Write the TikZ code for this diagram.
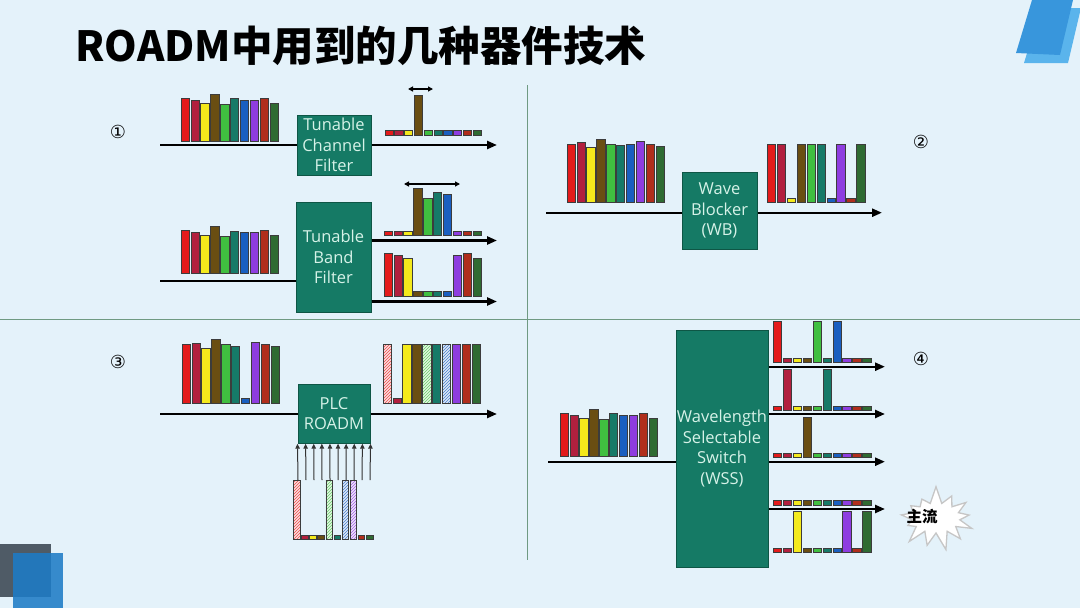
\documentclass[tikz,border=0pt]{standalone}
\usepackage{fontspec}
\usetikzlibrary{arrows.meta,calc,patterns,shapes.symbols}
\newfontfamily\cjk{Noto Sans CJK SC}
\newfontfamily\boxfont{Open Sans}
\newfontfamily\symfont{DejaVu Sans}
\definecolor{bg}{HTML}{E4F2FA}
\definecolor{boxfill}{HTML}{157A65}
\definecolor{boxline}{HTML}{0E5645}
\definecolor{boxtext}{HTML}{D6F2E8}
\definecolor{divider}{HTML}{6F9A82}
\definecolor{barline}{HTML}{3C3C3C}
\definecolor{decoblue}{HTML}{3896DC}
\definecolor{decolight}{HTML}{5AB4EC}
\definecolor{decogray}{HTML}{4F5B66}
\definecolor{decodeep}{HTML}{1E7CC6}
\definecolor{c1}{HTML}{E41B1B}
\definecolor{c2}{HTML}{B2203E}
\definecolor{c3}{HTML}{F4EA1C}
\definecolor{c4}{HTML}{6A4E12}
\definecolor{c5}{HTML}{40BF40}
\definecolor{c6}{HTML}{167A68}
\definecolor{c7}{HTML}{1A5FC0}
\definecolor{c8}{HTML}{8E3DE0}
\definecolor{c9}{HTML}{B02E1C}
\definecolor{c10}{HTML}{2F6B32}

% one spectrum: [pitch]{left x}{base y}{height/style,...}
\newcommand{\spectrum}[4][9.9]{%
  \foreach \h/\o [count=\i] in {#4}
    \draw[bar,fill=c\i,\o] ({#2+(\i-1)*#1},#3) rectangle ++({#1-1.6},-\h);
}

\begin{document}
\begin{tikzpicture}[
  x=1pt,y=-1pt,
  box/.style={draw=boxline,fill=boxfill,text=boxtext,line width=1pt,align=center,inner sep=0pt,
    font=\boxfont\fontsize{16.5}{20.5}\selectfont},
  bar/.style={draw=barline,line width=0.8pt},
  sol/.style={},
  hat/.style={preaction={fill=c\i!15},pattern=north east lines,pattern color=c\i!80},
  fiber/.style={line width=2.4pt,black},
  arr/.style={fiber,-{Triangle[length=10pt,width=8pt]}},
  widthmark/.style={line width=1.2pt,{Triangle[length=5pt,width=5pt]}-{Triangle[length=5pt,width=5pt]}},
  uparr/.style={line width=1pt,black!80,-{Triangle[length=5pt,width=4.5pt]}},
  num/.style={font=\symfont\fontsize{18}{20}\selectfont},
]
  \useasboundingbox (0,0) rectangle (1080,608);
  \fill[bg] (0,0) rectangle (1080,608);

  % corner decorations
  \fill[decolight] (1041,8) -- (1080,8) -- (1080,12) -- (1068,63) -- (1024,63) -- cycle;
  \fill[decoblue] (1032,0) -- (1073,0) -- (1060,55) -- (1016,53) -- cycle;
  \fill[decogray] (0,544) rectangle (51,597);
  \fill[decodeep,opacity=0.88] (13,553) rectangle (63,608);

  % title
  \node[anchor=base west,font=\cjk\bfseries\fontsize{41.5}{46}\selectfont] (title) at (72,61) {ROADM中用到的几种器件技术};

  % quadrant dividers
  \draw[divider,line width=1pt] (0,319) -- (1080,319);
  \draw[divider,line width=1pt] (527,85) -- (527,560);

  % circled numbers
  \node[num] (n1) at (118,132) {①};
  \node[num] (n2) at (921,142) {②};
  \node[num] (n3) at (118,362) {③};
  \node[num] (n4) at (921,359) {④};

  % Quadrant 1: tunable channel filter
  \node[box,minimum width=74pt,minimum height=60pt] (tcf) at (334,145) {Tunable\\Channel\\Filter};
  \coordinate (tcf in) at (160,145);
  \coordinate (tcf out) at (497,145);
  \draw[fiber] (tcf in) -- (tcf.west);
  \draw[arr] (tcf.east) -- (tcf out);
  \spectrum{181}{141}{43/sol,41/sol,38/sol,47/sol,37/sol,42.5/sol,41/sol,41/sol,43/sol,38/sol}
  \spectrum[9.8]{385}{135}{4.5/sol,4.5/sol,4.5/sol,40/sol,4.5/sol,4.5/sol,4.5/sol,4.5/sol,4.5/sol,4.5/sol}
  \coordinate (cw a) at (408,89);
  \coordinate (cw b) at (433,89);
  \draw[widthmark] (cw a) -- (cw b);

  % Quadrant 1: tunable band filter
  \node[box,minimum width=75pt,minimum height=110pt] (tbf) at (333.5,257) {Tunable\\Band\\Filter};
  \coordinate (tbf in) at (160,281);
  \coordinate (tbf out1) at (497,240.5);
  \coordinate (tbf out2) at (497,301.5);
  \draw[fiber] (tbf in) -- (tbf in -| tbf.west);
  \draw[arr] (tbf out1 -| tbf.east) -- (tbf out1);
  \draw[arr] (tbf out2 -| tbf.east) -- (tbf out2);
  \spectrum{181}{273.5}{43/sol,41/sol,38/sol,47/sol,37/sol,42.5/sol,41/sol,41/sol,43/sol,38/sol}
  \spectrum{384}{235.5}{4.5/sol,4.5/sol,4.5/sol,47/sol,37/sol,43/sol,41/sol,4.5/sol,4.5/sol,4.5/sol}
  \spectrum{384}{296}{43/sol,40.5/sol,38/sol,4.5/sol,4.5/sol,4.5/sol,4.5/sol,40.5/sol,43/sol,38/sol}
  \coordinate (bw a) at (404,184);
  \coordinate (bw b) at (460,184);
  \draw[widthmark] (bw a) -- (bw b);

  % Quadrant 2: wave blocker
  \node[box,minimum width=75pt,minimum height=77pt] (wb) at (719.5,210.5) {Wave\\Blocker\\(WB)};
  \coordinate (wb in) at (546,212.7);
  \coordinate (wb out) at (882,212.7);
  \draw[fiber] (wb in) -- (wb in -| wb.west);
  \draw[arr] (wb out -| wb.east) -- (wb out);
  \spectrum{567}{202.7}{58.5/sol,60/sol,55/sol,63.5/sol,58.5/sol,57.5/sol,58.5/sol,61.5/sol,58.5/sol,56.5/sol}
  \spectrum{767.5}{202.7}{58.5/sol,58.5/sol,4.5/sol,58.5/sol,58.5/sol,58.5/sol,4.5/sol,58.5/sol,4.5/sol,58.5/sol}

  % Quadrant 3: PLC ROADM
  \node[box,minimum width=72pt,minimum height=59pt] (plc) at (334,413.7) {PLC\\ROADM};
  \coordinate (plc in) at (160,414);
  \coordinate (plc out) at (497,414);
  \draw[fiber] (plc in) -- (plc in -| plc.west);
  \draw[arr] (plc out -| plc.east) -- (plc out);
  \spectrum{182}{403.3}{58.5/sol,59.5/sol,55/sol,63.5/sol,58.5/sol,57/sol,4.5/sol,61/sol,58.5/sol,56.5/sol}
  \spectrum{383}{403.3}{58.5/hat,4.5/sol,58.5/sol,58.5/sol,58.5/hat,58.5/sol,58.5/hat,58.5/sol,58.5/sol,58.5/sol}
  \spectrum[8.1]{293.5}{539}{58.3/hat,4/sol,4/sol,4/sol,58.3/hat,4/sol,58.3/hat,58.3/hat,4/sol,4/sol}
  \coordinate (add a) at (298,480);
  \coordinate (add b) at (370,480);
  \foreach \k in {0,...,9}
    \draw[uparr] ($(add a)!\k/9!(add b)$) -- ($(plc.south west)!\k/9!(plc.south east)$);

  % Quadrant 4: wavelength selectable switch
  \node[box,minimum width=92pt,minimum height=237pt] (wss) at (722,448.5) {Wavelength\\Selectable\\Switch\\(WSS)};
  \coordinate (wss in) at (548,461.7);
  \draw[fiber] (wss in) -- (wss in -| wss.west);
  \foreach \y [count=\j] in {366.7,414,461.7,509} {
    \coordinate (wss out\j) at (885,\y);
    \draw[arr] (wss out\j -| wss.east) -- (wss out\j);
  }
  \spectrum{560}{456}{43/sol,41/sol,38/sol,47/sol,37/sol,42.5/sol,41/sol,41/sol,43/sol,38/sol}
  \spectrum{773.5}{362.3}{40.6/sol,4/sol,4/sol,4/sol,40.6/sol,4/sol,40.6/sol,4/sol,4/sol,4/sol}
  \spectrum{773.5}{410}{4/sol,41/sol,4/sol,4/sol,4/sol,41/sol,4/sol,4/sol,4/sol,4/sol}
  \spectrum{773.5}{457.7}{4/sol,4/sol,4/sol,40.4/sol,4/sol,4/sol,4/sol,4/sol,4/sol,4/sol}
  \spectrum{773.5}{505}{4.3/sol,4.3/sol,4.3/sol,4.3/sol,4.3/sol,4.3/sol,4.3/sol,4.3/sol,4.3/sol,4.3/sol}
  \spectrum{773.5}{552.5}{4/sol,4/sol,40.8/sol,4/sol,4/sol,4/sol,4/sol,40.8/sol,4/sol,40.8/sol}

  % main stream burst
  \node[starburst,starburst points=13,starburst point height=18pt,random starburst=7,
    draw=gray!45,fill=white,line width=1.3pt,minimum width=84pt,minimum height=66pt] (burst) at (936,518) {};
  \node[font=\cjk\bfseries\fontsize{15.5}{18}\selectfont] (mainflow) at (922,517) {主流};
\end{tikzpicture}
\end{document}
